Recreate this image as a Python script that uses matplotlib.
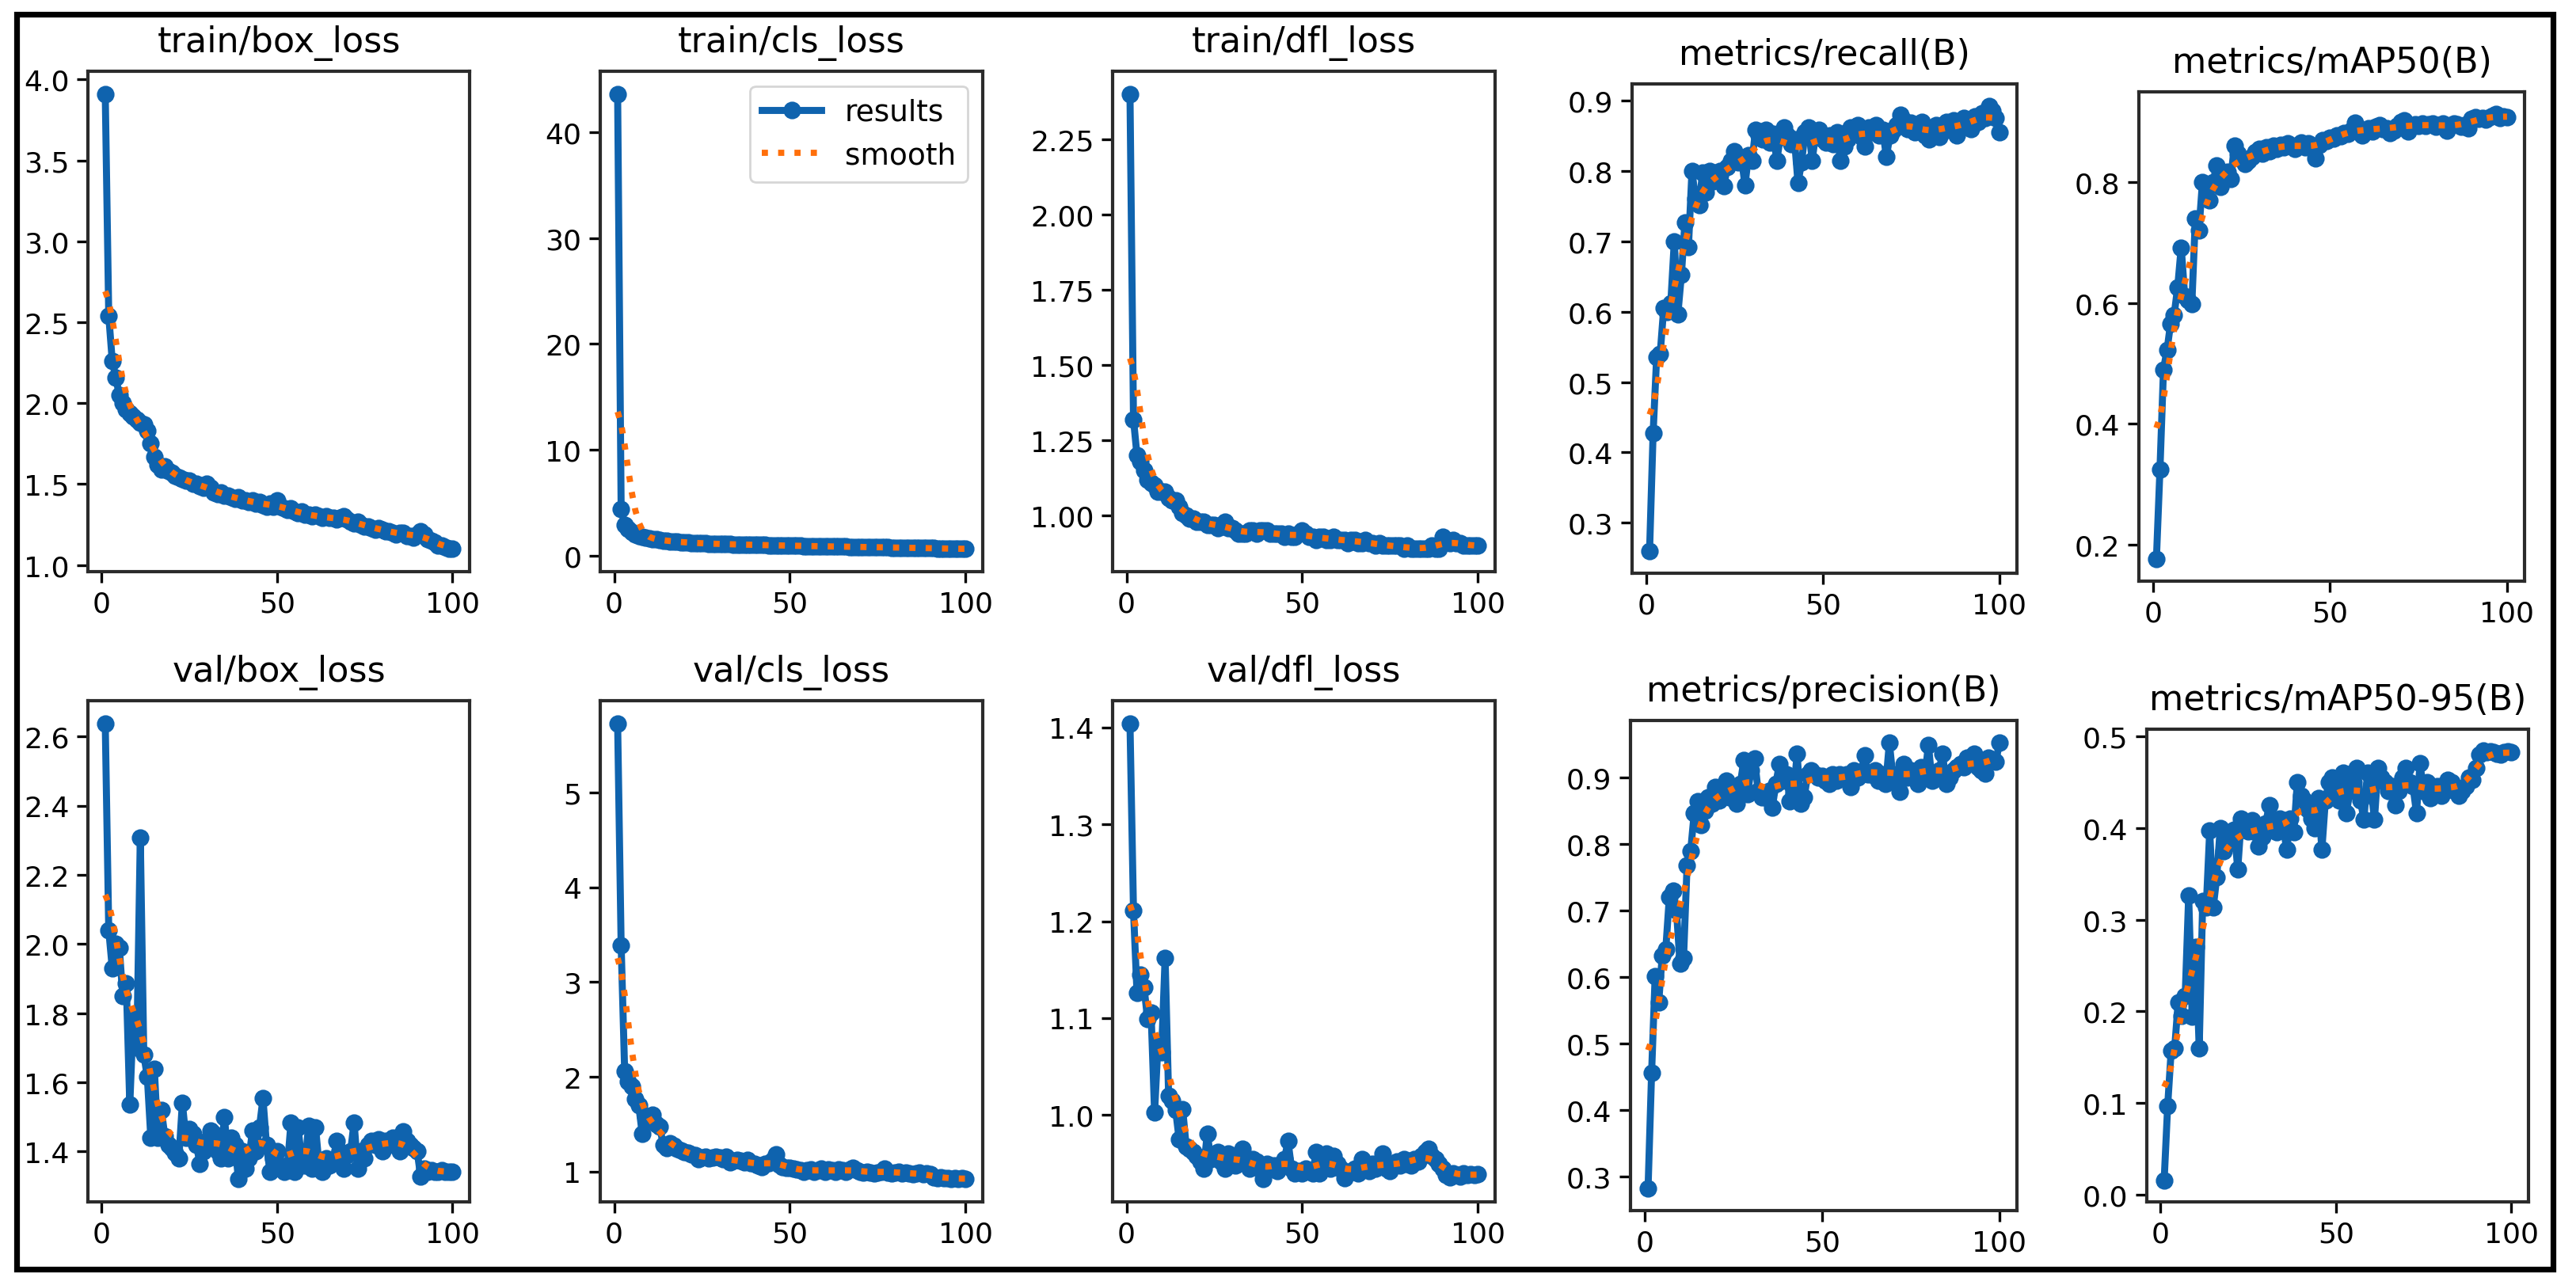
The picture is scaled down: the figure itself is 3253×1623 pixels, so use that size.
import numpy as np
import matplotlib
matplotlib.use("Agg")
import matplotlib.pyplot as plt
from matplotlib.patches import Rectangle

epochs = list(range(1, 101))

titles = [
    "train/box_loss", "train/cls_loss", "train/dfl_loss",
    "metrics/recall(B)", "metrics/mAP50(B)",
    "val/box_loss", "val/cls_loss", "val/dfl_loss",
    "metrics/precision(B)", "metrics/mAP50-95(B)",
]

train_box = [
    3.91, 2.54, 2.26, 2.16, 2.05, 2.00, 1.96, 1.94, 1.92, 1.90,
    1.88, 1.87, 1.83, 1.75, 1.67, 1.62, 1.59, 1.61, 1.58, 1.57,
    1.55, 1.54, 1.53, 1.52, 1.52, 1.50, 1.50, 1.49, 1.48, 1.50,
    1.48, 1.45, 1.44, 1.45, 1.43, 1.43, 1.42, 1.41, 1.42, 1.40,
    1.40, 1.39, 1.40, 1.38, 1.39, 1.37, 1.36, 1.38, 1.36, 1.40,
    1.36, 1.35, 1.34, 1.35, 1.33, 1.32, 1.33, 1.31, 1.31, 1.30,
    1.31, 1.30, 1.29, 1.30, 1.29, 1.29, 1.28, 1.29, 1.30, 1.28,
    1.27, 1.26, 1.27, 1.25, 1.24, 1.24, 1.23, 1.22, 1.23, 1.22,
    1.21, 1.21, 1.20, 1.19, 1.20, 1.20, 1.18, 1.18, 1.17, 1.19,
    1.21, 1.19, 1.16, 1.15, 1.14, 1.12, 1.12, 1.11, 1.10, 1.10,
]

train_cls = [
    43.6, 4.45, 2.95, 2.55, 2.25, 2.05, 1.90, 1.80, 1.72, 1.65,
    1.60, 1.55, 1.50, 1.46, 1.42, 1.38, 1.35, 1.32, 1.30, 1.28,
    1.26, 1.24, 1.22, 1.21, 1.19, 1.18, 1.16, 1.15, 1.14, 1.13,
    1.12, 1.11, 1.10, 1.09, 1.08, 1.07, 1.06, 1.06, 1.05, 1.04,
    1.03, 1.02, 1.02, 1.01, 1.00, 0.99, 0.99, 0.98, 0.97, 0.97,
    0.96, 0.95, 0.95, 0.94, 0.93, 0.93, 0.92, 0.92, 0.91, 0.90,
    0.90, 0.89, 0.89, 0.88, 0.87, 0.87, 0.86, 0.86, 0.85, 0.85,
    0.84, 0.83, 0.83, 0.82, 0.82, 0.81, 0.80, 0.80, 0.79, 0.79,
    0.78, 0.78, 0.77, 0.76, 0.76, 0.75, 0.75, 0.74, 0.73, 0.73,
    0.72, 0.71, 0.71, 0.70, 0.69, 0.68, 0.68, 0.67, 0.66, 0.66,
]

train_dfl = [
    2.40, 1.32, 1.20, 1.18, 1.15, 1.12, 1.11, 1.10, 1.08, 1.08,
    1.08, 1.06, 1.05, 1.05, 1.03, 1.01, 1.00, 0.99, 0.99, 0.98,
    0.98, 0.98, 0.97, 0.97, 0.97, 0.96, 0.97, 0.98, 0.96, 0.96,
    0.95, 0.94, 0.94, 0.94, 0.95, 0.95, 0.94, 0.95, 0.95, 0.95,
    0.94, 0.94, 0.94, 0.94, 0.93, 0.94, 0.93, 0.93, 0.94, 0.95,
    0.94, 0.93, 0.93, 0.92, 0.93, 0.93, 0.92, 0.92, 0.93, 0.92,
    0.92, 0.92, 0.91, 0.92, 0.92, 0.91, 0.91, 0.92, 0.91, 0.91,
    0.90, 0.91, 0.90, 0.90, 0.90, 0.90, 0.90, 0.90, 0.89, 0.90,
    0.89, 0.89, 0.89, 0.89, 0.89, 0.89, 0.90, 0.89, 0.89, 0.93,
    0.92, 0.91, 0.92, 0.91, 0.91, 0.90, 0.90, 0.90, 0.90, 0.90,
]

recall = [
    0.260, 0.427, 0.535, 0.540, 0.605, 0.600, 0.612, 0.700, 0.596, 0.652,
    0.727, 0.692, 0.800, 0.760, 0.752, 0.798, 0.770, 0.800, 0.785, 0.790,
    0.800, 0.778, 0.806, 0.815, 0.828, 0.812, 0.818, 0.780, 0.822, 0.815,
    0.858, 0.850, 0.845, 0.858, 0.840, 0.853, 0.815, 0.848, 0.862, 0.850,
    0.838, 0.845, 0.783, 0.812, 0.855, 0.862, 0.815, 0.852, 0.858, 0.845,
    0.840, 0.850, 0.838, 0.855, 0.815, 0.835, 0.845, 0.862, 0.858, 0.865,
    0.848, 0.835, 0.862, 0.855, 0.865, 0.850, 0.858, 0.820, 0.850, 0.858,
    0.865, 0.880, 0.872, 0.860, 0.868, 0.855, 0.862, 0.870, 0.850, 0.845,
    0.858, 0.865, 0.848, 0.862, 0.870, 0.858, 0.872, 0.850, 0.862, 0.875,
    0.868, 0.860, 0.878, 0.870, 0.882, 0.875, 0.892, 0.885, 0.875, 0.855,
]

map50 = [
    0.176, 0.324, 0.490, 0.522, 0.566, 0.580, 0.626, 0.692, 0.612, 0.605,
    0.598, 0.740, 0.720, 0.800, 0.792, 0.770, 0.800, 0.828, 0.792, 0.808,
    0.818, 0.806, 0.860, 0.848, 0.838, 0.830, 0.836, 0.842, 0.850, 0.855,
    0.848, 0.858, 0.852, 0.860, 0.856, 0.862, 0.858, 0.865, 0.860, 0.855,
    0.862, 0.866, 0.858, 0.864, 0.860, 0.840, 0.862, 0.870, 0.868, 0.874,
    0.872, 0.878, 0.876, 0.882, 0.880, 0.885, 0.899, 0.884, 0.878, 0.886,
    0.890, 0.884, 0.892, 0.895, 0.888, 0.890, 0.882, 0.886, 0.893, 0.900,
    0.902, 0.884, 0.892, 0.896, 0.894, 0.897, 0.893, 0.896, 0.898, 0.892,
    0.895, 0.897, 0.886, 0.894, 0.898, 0.896, 0.892, 0.895, 0.890, 0.905,
    0.908, 0.905, 0.906, 0.904, 0.908, 0.910, 0.913, 0.907, 0.909, 0.908,
]

val_box = [
    2.638, 2.040, 1.930, 2.000, 1.990, 1.850, 1.886, 1.535, 1.786, 1.700,
    2.308, 1.680, 1.616, 1.440, 1.640, 1.440, 1.520, 1.445, 1.420, 1.410,
    1.395, 1.380, 1.540, 1.440, 1.465, 1.450, 1.420, 1.365, 1.400, 1.430,
    1.460, 1.450, 1.400, 1.380, 1.500, 1.380, 1.440, 1.420, 1.320, 1.400,
    1.350, 1.380, 1.460, 1.400, 1.470, 1.553, 1.420, 1.340, 1.380, 1.400,
    1.360, 1.340, 1.360, 1.484, 1.340, 1.470, 1.380, 1.360, 1.475, 1.350,
    1.470, 1.360, 1.340, 1.380, 1.360, 1.370, 1.430, 1.400, 1.350, 1.390,
    1.400, 1.484, 1.350, 1.400, 1.380, 1.420, 1.430, 1.420, 1.435, 1.400,
    1.430, 1.420, 1.440, 1.430, 1.400, 1.457, 1.430, 1.420, 1.410, 1.400,
    1.327, 1.350, 1.340, 1.345, 1.340, 1.342, 1.345, 1.340, 1.342, 1.340,
]

val_cls = [
    5.73, 3.39, 2.06, 1.95, 1.90, 1.77, 1.70, 1.40, 1.58, 1.55,
    1.60, 1.50, 1.47, 1.28, 1.25, 1.30, 1.27, 1.24, 1.22, 1.21,
    1.20, 1.18, 1.17, 1.13, 1.15, 1.16, 1.14, 1.15, 1.16, 1.15,
    1.13, 1.16, 1.10, 1.11, 1.12, 1.11, 1.10, 1.12, 1.09, 1.08,
    1.06, 1.05, 1.08, 1.09, 1.11, 1.18, 1.07, 1.05, 1.04, 1.04,
    1.03, 1.02, 1.01, 1.00, 1.01, 1.02, 1.00, 1.01, 1.03, 1.00,
    1.02, 1.01, 1.00, 1.02, 1.01, 1.00, 1.02, 1.04, 1.01, 1.00,
    0.99, 1.00, 0.99, 0.98, 0.99, 1.00, 1.03, 0.99, 0.98, 0.99,
    1.00, 0.98, 0.99, 0.98, 0.97, 0.98, 0.99, 0.97, 0.98, 0.97,
    0.94, 0.93, 0.94, 0.93, 0.93, 0.92, 0.93, 0.92, 0.93, 0.92,
]

val_dfl = [
    1.404, 1.211, 1.126, 1.145, 1.132, 1.099, 1.106, 1.003, 1.075, 1.065,
    1.162, 1.020, 1.015, 1.005, 0.975, 1.006, 0.968, 0.965, 0.962, 0.958,
    0.952, 0.945, 0.981, 0.955, 0.958, 0.962, 0.952, 0.945, 0.960, 0.958,
    0.948, 0.955, 0.965, 0.950, 0.945, 0.955, 0.952, 0.945, 0.934, 0.950,
    0.945, 0.948, 0.942, 0.950, 0.955, 0.973, 0.945, 0.940, 0.942, 0.940,
    0.945, 0.942, 0.940, 0.962, 0.940, 0.955, 0.960, 0.945, 0.958, 0.950,
    0.945, 0.935, 0.940, 0.942, 0.945, 0.940, 0.955, 0.948, 0.942, 0.950,
    0.945, 0.948, 0.960, 0.945, 0.942, 0.950, 0.952, 0.948, 0.955, 0.950,
    0.948, 0.955, 0.952, 0.958, 0.962, 0.965, 0.958, 0.955, 0.950, 0.945,
    0.938, 0.936, 0.940, 0.938, 0.937, 0.940, 0.938, 0.939, 0.938, 0.939,
]

precision = [
    0.282, 0.456, 0.601, 0.562, 0.632, 0.642, 0.720, 0.730, 0.700, 0.620,
    0.628, 0.768, 0.789, 0.846, 0.864, 0.828, 0.850, 0.870, 0.860, 0.885,
    0.865, 0.880, 0.895, 0.870, 0.880, 0.861, 0.890, 0.926, 0.875, 0.910,
    0.928, 0.880, 0.870, 0.870, 0.880, 0.854, 0.890, 0.920, 0.895, 0.905,
    0.864, 0.875, 0.935, 0.861, 0.870, 0.905, 0.910, 0.905, 0.900, 0.902,
    0.895, 0.890, 0.905, 0.895, 0.905, 0.900, 0.905, 0.885, 0.910, 0.900,
    0.905, 0.933, 0.905, 0.905, 0.910, 0.895, 0.905, 0.890, 0.952, 0.900,
    0.905, 0.878, 0.920, 0.900, 0.910, 0.905, 0.890, 0.915, 0.900, 0.949,
    0.895, 0.900, 0.910, 0.935, 0.890, 0.900, 0.910, 0.915, 0.920, 0.915,
    0.930, 0.925, 0.935, 0.915, 0.910, 0.906, 0.930, 0.925, 0.923, 0.952,
]

map50_95 = [
    0.016, 0.097, 0.157, 0.160, 0.210, 0.195, 0.217, 0.326, 0.194, 0.270,
    0.160, 0.320, 0.313, 0.397, 0.313, 0.346, 0.400, 0.375, 0.382, 0.392,
    0.398, 0.355, 0.410, 0.402, 0.396, 0.408, 0.395, 0.380, 0.390, 0.405,
    0.425, 0.402, 0.395, 0.410, 0.400, 0.376, 0.410, 0.395, 0.450, 0.435,
    0.430, 0.420, 0.410, 0.400, 0.432, 0.376, 0.430, 0.450, 0.455, 0.440,
    0.430, 0.460, 0.416, 0.440, 0.450, 0.465, 0.430, 0.409, 0.460, 0.445,
    0.409, 0.465, 0.455, 0.450, 0.440, 0.445, 0.425, 0.440, 0.455, 0.465,
    0.450, 0.445, 0.416, 0.470, 0.440, 0.450, 0.432, 0.440, 0.445, 0.435,
    0.445, 0.452, 0.450, 0.440, 0.435, 0.440, 0.445, 0.455, 0.452, 0.465,
    0.480, 0.484, 0.482, 0.483, 0.482, 0.481, 0.480, 0.482, 0.483, 0.482,
]

series = [train_box, train_cls, train_dfl, recall, map50,
          val_box, val_cls, val_dfl, precision, map50_95]

# axes boxes in pixels of the 3253x1624 canvas: left, top, right, bottom
boxes = [
    (111, 91, 593, 723), (758, 91, 1241, 723), (1405, 91, 1888, 723),
    (2061, 107, 2547, 725), (2701, 117, 3188, 735),
    (111, 886, 593, 1519), (758, 886, 1241, 1519), (1405, 886, 1888, 1519),
    (2059, 911, 2547, 1530), (2711, 922, 3193, 1519),
]

W, H = 3253, 1624


def smooth(y, sigma=3.0):
    # same as scipy gaussian_filter1d with mode='reflect'
    y = np.asarray(y, dtype=float)
    r = int(4 * sigma + 0.5)
    k = np.exp(-0.5 * (np.arange(-r, r + 1) / sigma) ** 2)
    k /= k.sum()
    padded = np.pad(y, r, mode="symmetric")
    return np.convolve(padded, k, mode="valid")


fig = plt.figure(figsize=(W / 200, H / 200), dpi=200)

for i, (title, values) in enumerate(zip(titles, series)):
    l, t, r, b = boxes[i]
    ax = fig.add_axes([l / W, 1 - b / H, (r - l) / W, (b - t) / H])
    ax.plot(epochs, values, marker=".", color="#0f63ae", linewidth=3.2,
            markersize=14, label="results")
    ax.plot(epochs, smooth(values), ":", color="#ff6f0a", linewidth=2.8,
            label="smooth")
    ax.set_title(title, fontsize=16, pad=9)
    ax.set_xticks([0, 50, 100])
    ax.tick_params(labelsize=13, length=5, width=1.2)
    for s in ax.spines.values():
        s.set_linewidth(1.5)
        s.set_color("#2b2b2b")
    if i == 1:
        ax.legend(fontsize=13.5, loc="upper right")

# black frame round the whole picture
fig.add_artist(Rectangle((21 / W, 1 - 1604 / H), (3224 - 21) / W, (1604 - 19) / H,
                         transform=fig.transFigure, fill=False,
                         edgecolor="black", linewidth=2.6))

fig.savefig("out.png", dpi=200)
